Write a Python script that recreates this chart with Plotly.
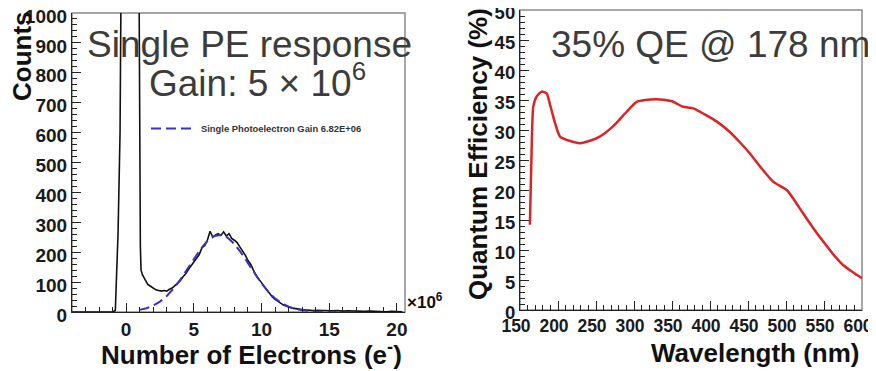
import plotly.graph_objects as go

# ---------------- data: single PE histogram ----------------
hist_x = [-4.0, -1.0, -0.8, -0.6, -0.45, -0.3, -0.1, 0.2, 0.5, 0.8, 0.95, 1.0, 1.05, 1.1,
          1.2, 1.4, 1.6, 1.8, 2.0, 2.2, 2.4, 2.6, 2.8, 3.0, 3.2, 3.4, 3.6, 3.8, 4.0,
          4.2, 4.4, 4.6, 4.8, 5.0, 5.2, 5.4, 5.6, 5.8, 6.0, 6.2, 6.4, 6.6, 6.8, 7.0,
          7.2, 7.4, 7.6, 7.8, 8.0, 8.2, 8.4, 8.6, 8.8, 9.0, 9.2, 9.4, 9.6, 9.8, 10.0,
          10.2, 10.4, 10.6, 10.8, 11.0, 11.2, 11.4, 11.6, 11.8, 12.0, 12.2, 12.4, 12.6,
          12.8, 13.0, 13.2, 13.4, 13.6, 13.8, 14.0, 14.4, 14.8, 15.2, 15.6, 16.0, 16.4,
          16.8, 17.2, 17.6, 18.0, 18.4, 18.8, 19.2, 19.6, 20.0, 20.4]
hist_counts = [0, 0, 5, 260, 600, 1100, 3000, 5000, 4000, 2500, 1100, 500, 220, 140,
               125, 108, 92, 86, 80, 74, 72, 70, 72, 70, 76, 80, 88, 96, 105,
               118, 128, 142, 155, 165, 178, 192, 215, 222, 240, 270, 250, 258, 262, 256,
               268, 254, 262, 246, 240, 232, 218, 205, 190, 172, 160, 140, 122, 110, 98,
               82, 70, 60, 50, 42, 36, 28, 24, 20, 16, 14, 12, 10,
               9, 8, 7, 6, 7, 5, 6, 5, 6, 4, 5, 3, 4,
               3, 3, 2, 3, 2, 2, 1, 2, 1, 1]

fit_x = [1.0, 1.5, 2.0, 2.5, 3.0, 3.5, 4.0, 4.5, 5.0, 5.5, 6.0, 6.5, 7.0, 7.5, 8.0,
         8.5, 9.0, 9.5, 10.0, 10.5, 11.0, 11.5, 12.0, 12.5, 13.0, 13.5, 14.0, 14.5,
         15.0, 15.5]
fit_counts = [7.1, 12.7, 21.6, 34.9, 53.6, 78.2, 108.2, 142.3, 177.7, 210.7, 237.3,
              253.8, 257.7, 248.6, 227.7, 198.0, 163.6, 128.3, 95.6, 67.6, 45.4, 29.0,
              17.6, 10.1, 5.5, 2.9, 1.4, 0.7, 0.3, 0.1]

# ---------------- data: quantum efficiency ----------------
qe_wavelength = [163, 165, 167.5, 172, 178.5, 185, 190, 196, 202.6, 215, 229, 242, 255,
                 266, 277, 290, 303.5, 315, 334, 350, 364, 378, 393, 409, 425, 439,
                 453, 466, 483, 501, 511, 522, 535, 549, 562, 575, 588, 600]
qe_percent = [14.2, 25.0, 33.9, 35.6, 36.4, 36.1, 34.0, 31.2, 28.9, 28.2, 27.8, 28.2, 28.9,
              29.9, 31.2, 33.0, 34.7, 35.0, 35.1, 34.8, 33.9, 33.6, 32.6, 31.4, 29.8, 28.0,
              26.0, 23.9, 21.4, 20.0, 18.3, 16.2, 13.8, 11.4, 9.3, 7.5, 6.3, 5.3]

# ---------------- layout geometry ----------------
# the page body has an 8px margin; work in page pixels and shift
OFF = 8
W, H = 868, 363


def px_x(p):
    return (p - OFF) / W


def px_y(p):
    return 1 - (p - OFF) / H


fig = go.Figure()

fig.add_trace(go.Scatter(x=hist_x, y=hist_counts, mode="lines",
                         line=dict(color="#111111", width=1.6),
                         showlegend=False, xaxis="x", yaxis="y"))
fig.add_trace(go.Scatter(x=fit_x, y=fit_counts, mode="lines",
                         name="<b>Single Photoelectron Gain 6.82E+06</b>",
                         line=dict(color="#3a32c8", width=2, dash="10px,5px"),
                         showlegend=True, xaxis="x", yaxis="y"))
fig.add_trace(go.Scatter(x=qe_wavelength, y=qe_percent, mode="lines",
                         line=dict(color="#e02222", width=2.5, shape="spline", smoothing=0.6),
                         showlegend=False, xaxis="x2", yaxis="y2"))


def tickfont(size):
    return dict(family="Liberation Sans, Arial", size=size, color="#1a1a1a", weight="bold")


common_axis = dict(showline=True, linecolor="#222222", linewidth=1.2, ticks="inside",
                   tickcolor="#222222", tickwidth=1, showgrid=False, zeroline=False,
                   automargin=False, ticklabeloverflow="allow")

fig.update_layout(
    width=W, height=H,
    margin=dict(l=0, r=0, t=0, b=0, pad=0, autoexpand=False),
    paper_bgcolor="white", plot_bgcolor="white",
    xaxis=dict(domain=[px_x(72), px_x(405)], range=[-4, 20.6], anchor="y",
               tickvals=[0, 5, 10, 15, 20], ticklen=9, tickfont=tickfont(19),
               minor=dict(dtick=1, tick0=0, ticklen=5, ticks="inside", tickcolor="#222222"),
               **common_axis),
    yaxis=dict(domain=[px_y(312), px_y(13)], range=[0, 1000], anchor="x",
               dtick=100, ticklen=9, tickfont=tickfont(19), ticklabelshift=3,
               minor=dict(dtick=20, ticklen=5, ticks="inside", tickcolor="#222222"),
               **common_axis),
    xaxis2=dict(domain=[px_x(520), px_x(862)], range=[150, 600], anchor="y2",
                dtick=50, ticklen=9, tickfont=tickfont(17.5), ticklabelshift=-4,
                minor=dict(dtick=10, ticklen=5, ticks="inside", tickcolor="#222222"),
                **common_axis),
    yaxis2=dict(domain=[px_y(310), px_y(10)], range=[0, 50], anchor="x2",
                dtick=5, ticklen=9, tickfont=tickfont(18.5), ticklabelshift=3,
                minor=dict(dtick=1, ticklen=5, ticks="inside", tickcolor="#222222"),
                **common_axis),
    legend=dict(x=px_x(146), y=px_y(114), xanchor="left", yanchor="top",
                bgcolor="rgba(0,0,0,0)", borderwidth=0,
                font=dict(family="Liberation Sans, Arial", size=9.4, color="#333333"),
                itemwidth=45),
)

# frame (ROOT style box)
for xr, yr in (("x domain", "y domain"), ("x2 domain", "y2 domain")):
    fig.add_shape(type="rect", xref=xr, yref=yr, x0=0, x1=1, y0=0, y1=1,
                  line=dict(color="#8a8a8a", width=1.5), layer="below")

title_font = dict(family="Liberation Sans, Arial", size=26, color="#111111", weight="bold")
overlay_font = dict(family="Liberation Sans, Arial", size=37, color="#3c3c3c")

annotations = [
    dict(text="Counts", x=px_x(22), y=px_y(9), textangle=-90, xanchor="center",
         yanchor="top", font=title_font),
    dict(text="Number of Electrons (e<sup>-</sup>)", x=px_x(404), y=px_y(353),
         xanchor="right", yanchor="middle", font=title_font),
    dict(text="×10<sup>6</sup>", x=px_x(405), y=px_y(301), xanchor="left",
         yanchor="middle", font=dict(family="Liberation Sans, Arial", size=17,
                                     color="#111111", weight="bold")),
    dict(text="Quantum Efficiency (%)", x=px_x(478), y=px_y(154), textangle=-90,
         xanchor="center", yanchor="middle", font=title_font),
    dict(text="Wavelength (nm)", x=px_x(861), y=px_y(353), xanchor="right",
         yanchor="middle", font=title_font),
    dict(text="Single PE response", x=px_x(249), y=px_y(44), xanchor="center",
         yanchor="middle", font=overlay_font),
    dict(text="Gain: 5 × 10<sup>6</sup>", x=px_x(258), y=px_y(80), xanchor="center",
         yanchor="middle", font=overlay_font),
    dict(text="35% QE @ 178 nm", x=px_x(710), y=px_y(44), xanchor="center",
         yanchor="middle", font=overlay_font),
]
for a in annotations:
    a.update(xref="paper", yref="paper", showarrow=False)
fig.update_layout(annotations=annotations)

fig.write_html("out.html")
